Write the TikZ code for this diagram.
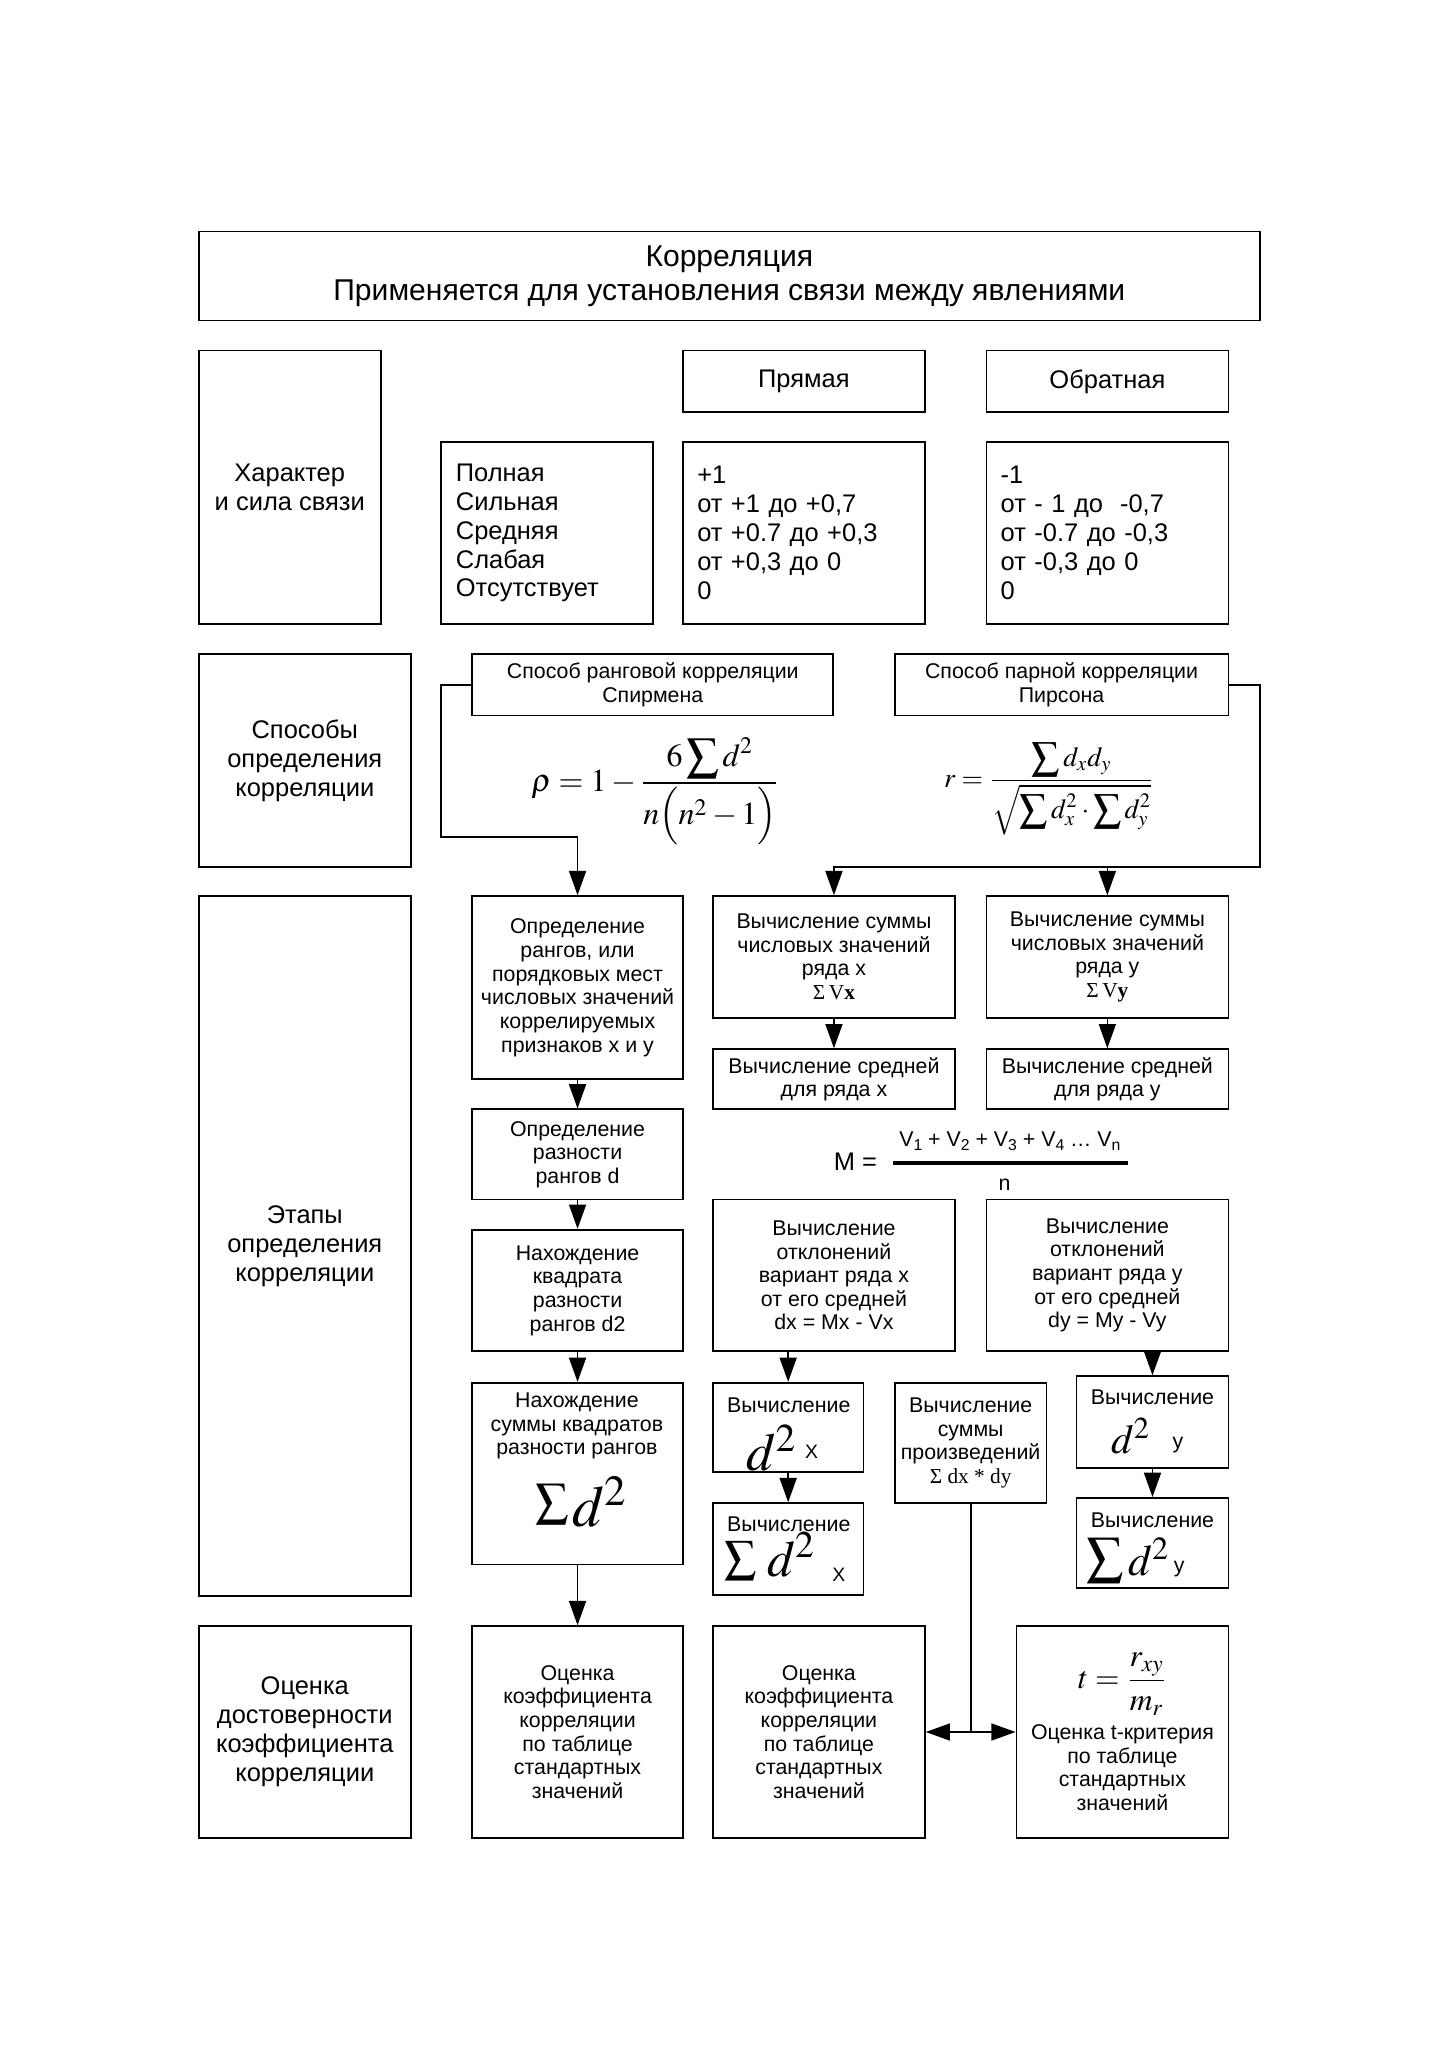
\documentclass[tikz,border=0pt]{standalone}
\usepackage{mathptmx}
\usepackage[no-math]{fontspec}
\setmainfont{Liberation Sans}
\newfontfamily\serif{Liberation Serif}
\usetikzlibrary{arrows.meta}
\newcommand\fszT{\fontsize{12.4}{14.1}\selectfont}
\newcommand\fszM{\fontsize{10.5}{11.9}\selectfont}
\newcommand\fszS{\fontsize{8.8}{9.75}\selectfont}
\newcommand\fszX{\fontsize{8}{9}\selectfont}
\newcommand\sbs[1]{\raisebox{-0.3ex}{\fontsize{6.5}{7}\selectfont #1}}
\newcommand\bx[7][]{\node[box,#1,minimum width={(#5-#3)*0.18958mm},minimum height={(#6-#4)*0.18958mm}] (#2) at ({(#3+#5)/2},{(#4+#6)/2}) {#7};}
\begin{document}
\begin{tikzpicture}[x=0.18958mm,y=-0.18958mm,
  box/.style={draw=black, line width=0.7pt, inner sep=0pt, align=center},
  lbox/.style={align=left, inner xsep=2.08mm},
  txt/.style={inner sep=0pt, align=center, font=\fszS},
  mth/.style={inner sep=0pt, anchor=base west},
  arr/.style={line width=0.7pt, -{Triangle[length=10pt,width=7pt]}},
  ln/.style={line width=0.7pt}]
\fill[white] (0,0) rectangle (1107.7,1567.1);
\useasboundingbox (0,0) rectangle (1107.7,1567.1);

% title
\bx[font=\fszT]{title}{152}{177}{963}{245}{Корреляция\\Применяется для установления связи между явлениями}

% row 1
\bx[font=\fszM]{char}{152}{268}{291}{477}{Характер\\и сила связи}
\bx[font=\fszM]{pr}{522}{268}{707}{315}{Прямая}
\bx[font=\fszM]{ob}{754}{268}{939}{315}{Обратная}
\bx[font=\fszM,lbox,text width=26.35mm]{lst}{337}{338}{499}{477}{Полная\\Сильная\\Средняя\\Слабая\\Отсутствует}
\bx[font=\fszM,lbox,text width=30.9mm]{prv}{522}{338}{707}{477}{+1\\от +1 до +0,7\\от +0.7 до +0,3\\от +0,3 до 0\\0}
\bx[font=\fszM,lbox,text width=30.9mm]{obv}{754}{338}{939}{477}{-1\\от - 1 до\ \ -0,7\\от -0.7 до -0,3\\от -0,3 до 0\\0}

% row 2
\bx[font=\fszM]{sposob}{152}{500}{314}{663}{Способы\\определения\\корреляции}
\bx[font=\fszS]{sp}{361}{500}{637}{547}{Способ ранговой корреляции\\Спирмена}
\bx[font=\fszS]{pe}{684}{500}{939}{547}{Способ парной корреляции\\Пирсона}
\node (spf) at (501,605) {\fontsize{13.2}{15}\selectfont $\displaystyle \rho = 1-\frac{6\displaystyle\sum d^2}{n\Bigl(n^2-1\Bigr)}$};
\node (pef) at (802,603) {\fontsize{11.4}{13}\selectfont $r=\displaystyle\frac{\displaystyle\sum d_x d_y}{\sqrt{\displaystyle\sum d_x^2\cdot\sum d_y^2}}$};

% row 3
\bx[font=\fszM]{etapy}{152}{685}{314}{1220}{Этапы\\определения\\корреляции}
\bx[font=\fszS]{rank}{361}{685}{522}{825}{Определение\\рангов, или\\порядковых мест\\числовых значений\\коррелируемых\\признаков x и y}
\bx[font=\fszS]{sumx}{545}{685}{730}{778}{Вычисление суммы\\числовых значений\\ряда x\\{\serif Σ\,V\textbf{x}}}
\bx[font=\fszS]{sumy}{754}{685}{939}{778}{Вычисление суммы\\числовых значений\\ряда y\\{\serif Σ\,V\textbf{y}}}
\bx[font=\fszS]{meanx}{545}{802}{730}{848}{Вычисление средней\\для ряда x}
\bx[font=\fszS]{meany}{754}{802}{939}{848}{Вычисление средней\\для ряда y}
\bx[font=\fszS]{diff}{361}{848}{522}{917}{Определение\\разности\\рангов d}

\node[font=\fszM, anchor=east] (meq) at (677,888) {M =};
\node[font=\fszS, anchor=south] (mnum) at (772,886) {V\sbs{1} + V\sbs{2} + V\sbs{3} + V\sbs{4} … V\sbs{n}};
\draw[line width=1.6pt] (683,889) -- (862,889);
\node[font=\fszS] (mden) at (768,906) {n};

\bx[font=\fszS]{sq}{361}{940}{522}{1033}{Нахождение\\квадрата\\разности\\рангов d2}
\bx[font=\fszS]{devx}{545}{917}{730}{1033}{Вычисление\\отклонений\\вариант ряда x\\от его средней\\dx = Mx - Vx}
\bx[font=\fszS]{devy}{754}{917}{939}{1033}{Вычисление\\отклонений\\вариант ряда y\\от его средней\\dy = My - Vy}

% sum of squares box
\bx{sumsq}{361}{1057}{522}{1196}{}
\node[txt] (sumsqt) at (441,1090) {Нахождение\\суммы квадратов\\разности рангов};
\node[inner sep=0pt] (sumsqS) at (422.5,1150) {\fontsize{13.5}{15}\selectfont$\displaystyle\sum$};
\node[mth] (sumsqD) at (437,1167) {\fontsize{24}{26}\selectfont$d^2$};

% d^2 x
\bx{d2x}{545}{1057}{660}{1125}{}
\node[txt] (d2xt) at (603,1074) {Вычисление};
\node[mth] (d2xD) at (570,1124) {\fontsize{22}{24}\selectfont$d^2$};
\node[mth,font=\fszX] (d2xX) at (615,1115) {X};

% sum d^2 x
\bx{sd2x}{545}{1149}{660}{1219}{}
\node[txt] (sd2xt) at (603,1165) {Вычисление};
\node[inner sep=0pt] (sd2xS) at (566,1193) {\fontsize{13}{15}\selectfont$\displaystyle\sum$};
\node[mth] (sd2xD) at (586,1205) {\fontsize{21}{23}\selectfont$d^2$};
\node[mth,font=\fszX] (sd2xX) at (636,1209) {X};

\bx[font=\fszS]{prod}{684}{1057}{800}{1149}{Вычисление\\суммы\\произведений\\{\serif Σ dx * dy}}

% d^2 y
\bx{d2y}{823}{1052}{939}{1122}{}
\node[txt] (d2yt) at (881,1068) {Вычисление};
\node[mth] (d2yD) at (849,1111) {\fontsize{17}{19}\selectfont$d^2$};
\node[mth,font=\fszS] (d2yY) at (896,1107) {у};

% sum d^2 y
\bx{sd2y}{823}{1145}{939}{1214}{}
\node[txt] (sd2yt) at (881,1162) {Вычисление};
\node[inner sep=0pt] (sd2yS) at (845,1193) {\fontsize{15}{17}\selectfont$\displaystyle\sum$};
\node[mth] (sd2yD) at (862,1204) {\fontsize{18}{20}\selectfont$d^2$};
\node[mth,font=\fszS] (sd2yY) at (897,1202) {у};

% row 4
\bx[font=\fszM]{ocenka}{152}{1243}{314}{1405}{Оценка\\достоверности\\коэффициента\\корреляции}
\bx[font=\fszS]{est1}{361}{1243}{522}{1405}{Оценка\\коэффициента\\корреляции\\по таблице\\стандартных\\значений}
\bx[font=\fszS]{est2}{545}{1243}{707}{1405}{Оценка\\коэффициента\\корреляции\\по таблице\\стандартных\\значений}
\bx[font=\fszS]{est3}{777}{1243}{939}{1405}{{\fontsize{13}{15}\selectfont$t=\displaystyle\frac{r_{xy}}{m_r}$}\\[3pt]Оценка t-критерия\\по таблице\\стандартных\\значений}

% connectors
\coordinate (spc) at (337,640);
\draw[arr] (sp.west) -| (spc) -| (rank.north);
\coordinate (pec) at (963,663);
\draw[arr] (pe.east) -| (pec) -| (sumx.north);
\draw[arr] (sumy.north |- pec) -- (sumy.north);
\draw[arr] (sumx.south) -- (meanx.north);
\draw[arr] (sumy.south) -- (meany.north);
\draw[arr] (rank.south) -- (diff.north);
\draw[arr] (diff.south) -- (sq.north);
\draw[arr] (sq.south) -- (sumsq.north);
\draw[arr] (sumsq.south) -- (est1.north);
\draw[arr] (d2x.north |- devx.south) -- (d2x.north);
\draw[arr] (d2x.south) -- (sd2x.north);
\draw[arr] (d2y.north |- devy.south) -- (d2y.north);
\draw[arr] (d2y.south) -- (sd2y.north);
\coordinate (pj) at (prod.south |- est2.east);
\draw[ln] (prod.south) -- (pj);
\draw[arr] (pj) -- (est2.east);
\draw[arr] (pj) -- (est3.west);
\end{tikzpicture}
\end{document}
